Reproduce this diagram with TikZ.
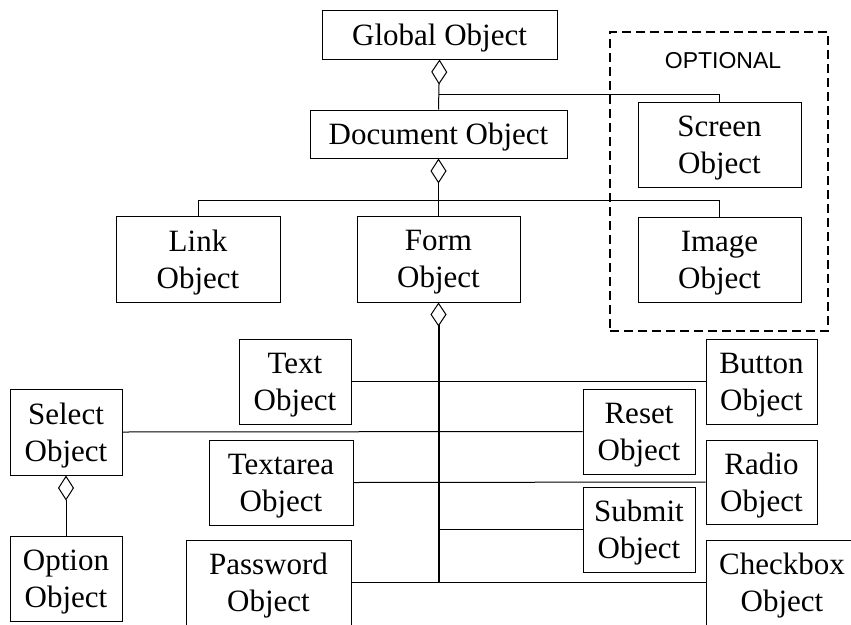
\documentclass[tikz,border=0pt]{standalone}
\usepackage{fontspec}
\setmainfont{Liberation Serif}
\newfontfamily\optfont{Liberation Sans}
\usetikzlibrary{arrows.meta}
\begin{document}
\begin{tikzpicture}[x=1pt,y=-1pt,
  box/.style={draw,line width=1pt,rectangle,inner sep=0pt,align=center,text depth=-2.5pt,
    font=\fontsize{31}{37}\selectfont},
  conn/.style={line width=1pt},
  agg/.style={line width=1pt,{Diamond[open,length=25pt,width=16pt,line width=1pt]}-},
  bus/.style={line width=2pt,{Diamond[open,length=24pt,width=16pt,line width=1pt]}-},
  optbox/.style={draw,line width=1.8pt,dash pattern=on 9pt off 5pt}]
\useasboundingbox (0,0) rectangle (851,624);
\clip (0,0) rectangle (851,624);
% optional frame
\node[optbox,minimum width=218pt,minimum height=299pt,inner sep=0pt] (opt) at (719,181.5) {};
\node[font=\optfont\fontsize{23}{27}\selectfont,inner sep=0pt] (optlabel) at (723,61) {OPTIONAL};
% boxes
\node[box,minimum width=235pt,minimum height=49pt] (global) at (439.5,34.5) {Global Object};
\node[box,minimum width=257pt,minimum height=48pt] (document) at (438.5,134) {Document Object};
\node[box,minimum width=163pt,minimum height=85pt] (screen) at (719.5,144.5) {Screen\\Object};
\node[box,minimum width=163pt,minimum height=85pt] (image) at (719.5,259.5) {Image\\Object};
\node[box,minimum width=164pt,minimum height=86pt] (link) at (198,259) {Link\\Object};
\node[box,minimum width=163pt,minimum height=86pt] (form) at (438.5,259) {Form\\Object};
\node[box,minimum width=112pt,minimum height=85pt] (text) at (295,381.5) {Text\\Object};
\node[box,minimum width=111pt,minimum height=85pt] (button) at (761.5,381.5) {Button\\Object};
\node[box,minimum width=112pt,minimum height=86pt] (select) at (66,432) {Select\\Object};
\node[box,minimum width=112pt,minimum height=85pt] (reset) at (639,431.5) {Reset\\Object};
\node[box,minimum width=144pt,minimum height=85pt] (textarea) at (281,482.5) {Textarea\\Object};
\node[box,minimum width=111pt,minimum height=84pt] (radio) at (761.5,482) {Radio\\Object};
\node[box,minimum width=112pt,minimum height=85pt] (submit) at (639,529.5) {Submit\\Object};
\node[box,minimum width=112pt,minimum height=85pt] (option) at (66,578.5) {Option\\Object};
\node[box,minimum width=165pt,minimum height=85pt] (password) at (268.5,582.5) {Password\\Object};
\node[box,minimum width=152pt,minimum height=85pt] (checkbox) at (782,582.5) {Checkbox\\Object};
% junctions
\coordinate (j1) at (438.5,94);
\coordinate (j2) at (438.5,200);
\coordinate (jb) at (438.5,583);
% connectors
\draw[agg] (global.south) -- (document.north);
\draw[conn] (j1) -| (screen.north);
\draw[agg] (document.south) -- (j2);
\draw[conn] (link.north) |- (image.north |- j2) -- (image.north);
\draw[conn] (j2) -- (form.north);
\draw[bus] (form.south) -- (jb);
\draw[conn] (text.east) -- (button.west);
\draw[conn] (select.east) -- (reset.west);
\draw[conn] (textarea.east) -- (radio.west);
\draw[conn] (jb |- submit.west) -- (submit.west);
\draw[conn] (password.east) -- (checkbox.west);
\draw[agg] (select.south) -- (option.north);
\end{tikzpicture}
\end{document}
